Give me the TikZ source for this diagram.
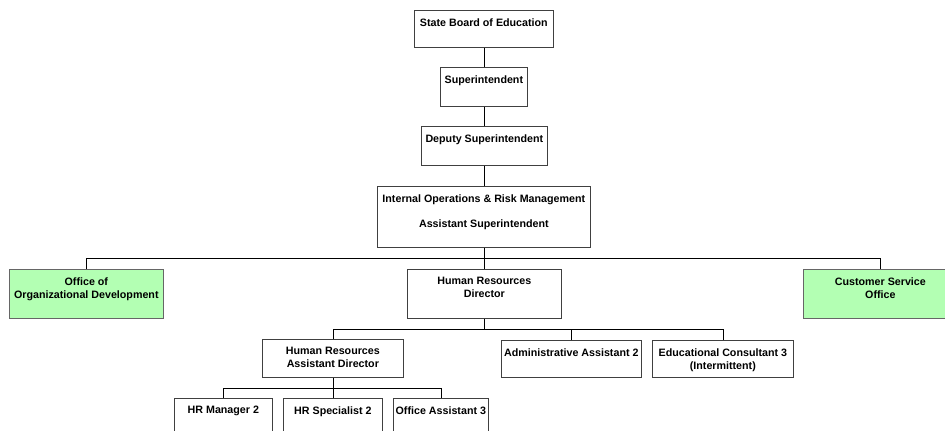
\documentclass[tikz,border=0pt]{standalone}
\usepackage{fontspec}
\setmainfont{Liberation Sans}
\begin{document}
\begin{tikzpicture}[x=1pt,y=-1pt,
  line width=0.7pt,
  unit/.style={draw=black!75, fill=white, rectangle, inner sep=0pt, anchor=north west},
  office/.style={unit, fill=officegreen, draw=black!60},
  caption/.style={anchor=north, inner sep=0pt, align=center,
    font=\fontsize{10.7}{13}\selectfont\bfseries},
  link/.style={draw=black, line width=0.7pt}
]
\definecolor{officegreen}{RGB}{179,255,179}
\useasboundingbox (0,0) rectangle (945,431);
\fill[white] (0,0) rectangle (945,431);
\clip (0,0) rectangle (945,431);

% boxes: placed by their top left corner
\newcommand{\orgbox}[7]{%
  \node[#1, minimum width=#4pt, minimum height=#5pt] (#2) at (#3) {};
  \node[caption] (#2-t) at ([yshift=-#6pt]#2.north) {#7};}

\orgbox{unit}{sbe}{414,10}{139}{37}{8}{State Board of Education}
\orgbox{unit}{sup}{440,67}{87}{39}{8}{Superintendent}
\orgbox{unit}{dep}{421,126}{126}{39}{8}{Deputy Superintendent}
\orgbox{unit}{iorm}{377,186}{213}{61}{8}{Internal Operations \& Risk Management\\[12pt]Assistant Superintendent}
\orgbox{office}{ood}{9,269}{154}{49}{8}{Office of\\Organizational Development}
\orgbox{unit}{hrd}{407,269}{154}{49}{8}{Human Resources\\Director}
\orgbox{office}{cso}{803,269}{154}{49}{8}{Customer Service\\Office}
\orgbox{unit}{hrad}{262,339}{141}{38}{8}{Human Resources\\Assistant Director}
\orgbox{unit}{aa}{501,340}{140}{37}{8}{Administrative Assistant 2}
\orgbox{unit}{ec}{652,340}{141}{37}{8}{Educational Consultant 3\\(Intermittent)}
\orgbox{unit}{hrm}{174,398}{98}{45}{8}{HR Manager 2}
\orgbox{unit}{hrs}{283,398}{99}{45}{8}{HR Specialist 2}
\orgbox{unit}{oa}{393,398}{95}{45}{8}{Office Assistant 3}

% heights of the horizontal bus lines and the shared vertical
\coordinate (busA) at (0,258);
\coordinate (busB) at (0,329);
\coordinate (busC) at (0,388);
\coordinate (spine) at (484,0);
\coordinate (hradx) at (333,0);

% reporting lines
\draw[link] (spine |- sbe.south) -- (spine |- sup.north);
\draw[link] (spine |- sup.south) -- (spine |- dep.north);
\draw[link] (spine |- dep.south) -- (spine |- iorm.north);

\draw[link] (spine |- iorm.south) -- (spine |- busA);
\draw[link] (ood.north) -- (ood.north |- busA) -- (cso.north |- busA) -- (cso.north);
\draw[link] (spine |- hrd.north) -- (spine |- busA);

\draw[link] (spine |- hrd.south) -- (spine |- busB);
\draw[link] (hradx |- hrad.north) -- (hradx |- busB) -- (ec.north |- busB) -- (ec.north);
\draw[link] (aa.north) -- (aa.north |- busB);

\draw[link] (hradx |- hrad.south) -- (hradx |- busC);
\draw[link] (hrm.north) -- (hrm.north |- busC) -- (oa.north |- busC) -- (oa.north);
\draw[link] (hrs.north) -- (hrs.north |- busC);
\end{tikzpicture}
\end{document}
